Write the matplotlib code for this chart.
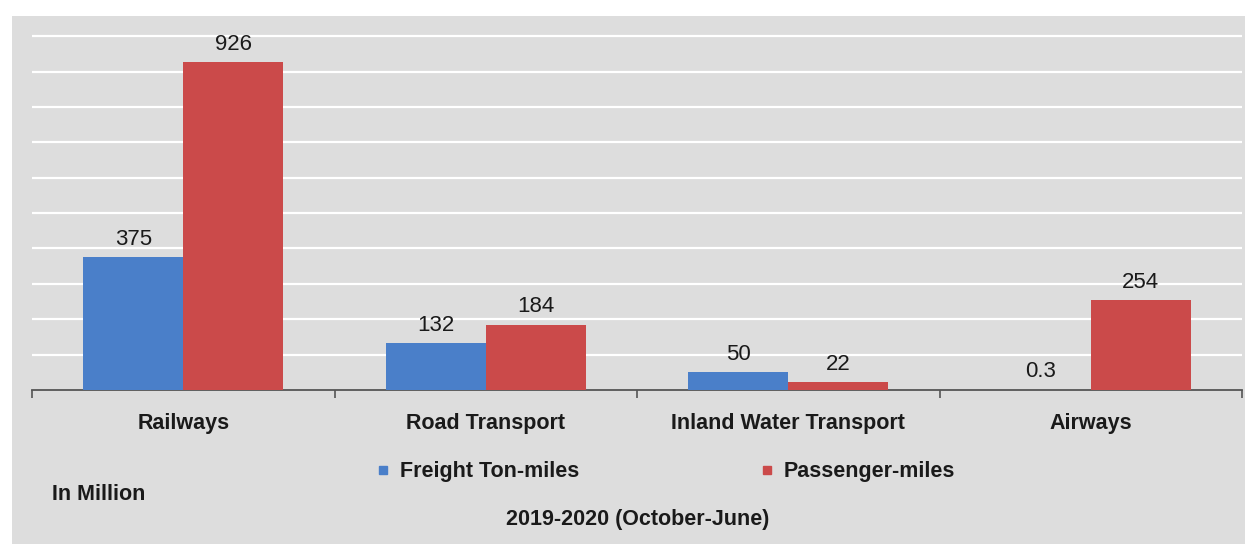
import matplotlib
matplotlib.use("Agg")
import matplotlib.pyplot as plt
import numpy as np
from matplotlib.patches import Rectangle
from matplotlib.lines import Line2D

categories = ["Railways", "Road Transport", "Inland Water Transport", "Airways"]
freight = [375, 132, 50, 0.3]
passenger = [926, 184, 22, 254]
freight_labels = ["375", "132", "50", "0.3"]
passenger_labels = ["926", "184", "22", "254"]
series_names = ["Freight Ton-miles", "Passenger-miles"]

BLUE = "#4a7fc9"
RED = "#cb4a4a"
BG = "#dddddd"

plt.rcParams['font.family'] = ['Liberation Sans', 'DejaVu Sans']

fig = plt.figure(figsize=(12.45, 5.44), dpi=100)
fig.patch.set_facecolor("white")
fig.patches.append(Rectangle((12/1245, 0), 1 - 12/1245, 1 - 16/544,
                             transform=fig.transFigure, facecolor=BG,
                             edgecolor="none", zorder=-5))

ax = fig.add_axes([32/1245, 154/544, 1210/1245, 368/544])
ax.set_facecolor(BG)
x = np.arange(len(categories))
w = 0.33
b1 = ax.bar(x - w/2, freight, width=w, color=BLUE, zorder=3)
b2 = ax.bar(x + w/2, passenger, width=w, color=RED, zorder=3)

ax.set_xlim(-0.5, len(categories) - 0.5)
ax.set_ylim(0, 1040)
ax.set_yticks(np.arange(100, 1001, 100))
ax.yaxis.grid(True, color="white", linewidth=1.6, zorder=1)
ax.set_axisbelow(True)
ax.tick_params(axis='y', left=False, labelleft=False)
for s in ["top", "right", "left"]:
    ax.spines[s].set_visible(False)
ax.spines["bottom"].set_color("#555555")
ax.spines["bottom"].set_linewidth(1.3)

ax.set_xticks(np.arange(-0.5, len(categories), 1.0))
ax.set_xticklabels([])
ax.tick_params(axis='x', direction='out', length=6, color="#555555", width=1.2)
for i, c in enumerate(categories):
    ax.text(i, -0.09, c, transform=ax.get_xaxis_transform(), ha='center', va='center',
            fontsize=15.5, fontweight='bold', color='#1a1a1a')

for xi, v, lab in zip(x - w/2, freight, freight_labels):
    ax.annotate(lab, (xi, v), xytext=(0, 18), textcoords='offset pixels',
                ha='center', va='center', fontsize=16, color='#1a1a1a')
for xi, v, lab in zip(x + w/2, passenger, passenger_labels):
    ax.annotate(lab, (xi, v), xytext=(0, 18), textcoords='offset pixels',
                ha='center', va='center', fontsize=16, color='#1a1a1a')

handles = [Line2D([], [], marker='s', linestyle='none', markersize=6, color=BLUE),
           Line2D([], [], marker='s', linestyle='none', markersize=6, color=RED)]
leg = fig.legend(handles, series_names, loc='center', bbox_to_anchor=(666/1245, 1 - 472/544),
                 ncol=2, frameon=False, handlelength=0.6, handletextpad=0.5,
                 columnspacing=8.4, prop={'weight': 'bold', 'size': 15.5})
for t in leg.get_texts():
    t.set_color('#1a1a1a')

fig.text(52/1245, 1 - 494/544, "In Million", ha='left', va='center',
         fontsize=15.5, fontweight='bold', color='#1a1a1a')
fig.text(638/1245, 1 - 519/544, "2019-2020 (October-June)", ha='center', va='center',
         fontsize=15.5, fontweight='bold', color='#1a1a1a')

fig.savefig("out.png", dpi=100, facecolor=fig.get_facecolor())
